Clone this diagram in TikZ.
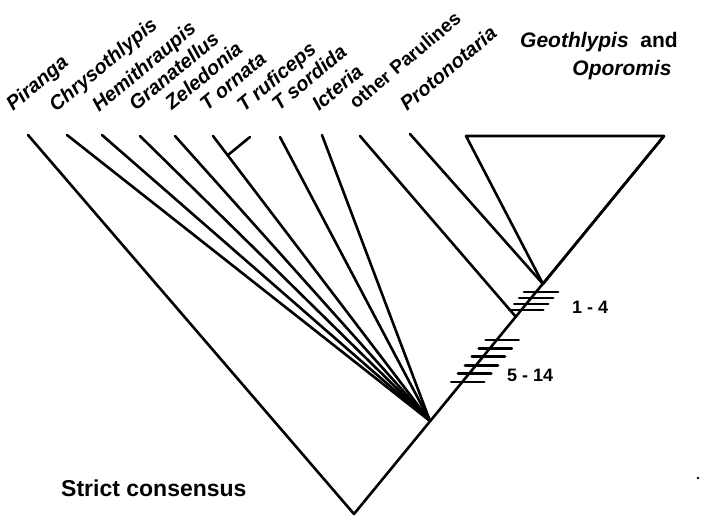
\documentclass[tikz,border=0pt]{standalone}
\usepackage{fontspec}
\setmainfont{Liberation Sans}
\begin{document}
\begin{tikzpicture}[x=1pt,y=-1pt,
  branch/.style={line width=2.6pt, line cap=round, line join=round},
  hash/.style={line width=2.8pt, line cap=round},
  lbl/.style={anchor=base west, rotate=40, inner sep=0pt, font=\fontsize{20}{20}\selectfont\bfseries\itshape},
  ttl/.style={inner sep=0pt, font=\fontsize{21}{21}\selectfont\bfseries},
  num/.style={inner sep=0pt, anchor=west, font=\fontsize{18}{18}\selectfont\bfseries}]
\useasboundingbox (0,0) rectangle (710,516);

% key points
\coordinate (R) at (354,514);
\coordinate (P) at (430,421);
\coordinate (O) at (516,317);
\coordinate (A) at (543,284);
\coordinate (TL) at (466,136);
\coordinate (TR) at (664,136);
\coordinate (J) at (228,155);

% leaf tops
\coordinate (piranga) at (28,135);
\coordinate (chryso) at (67,135);
\coordinate (hemi) at (102,135);
\coordinate (grana) at (140,136);
\coordinate (zele) at (175,136);
\coordinate (tornata) at (213,136);
\coordinate (truf) at (250,137);
\coordinate (tsord) at (280,137);
\coordinate (icter) at (322,135);
\coordinate (other) at (360,136);
\coordinate (proto) at (410,134);

% main branches
\draw[branch] (piranga) -- (R) -- (TR);
\draw[branch] (TL) -- (TR) -- (A) -- cycle;
\draw[branch] (proto) -- (A);
\draw[branch] (other) -- (O);
\foreach \c in {chryso,hemi,grana,zele,tornata,tsord,icter}
  \draw[branch] (\c) -- (P);
\draw[branch] (truf) -- (J);

% hash marks 1-4
\foreach \yy in {292,298,304,310}
  \draw[hash] ({354+0.82*(514-\yy)-12},\yy) -- ++(34,0);
% hash marks 5-14
\foreach \yy in {340,348.4,356.8,365.2,373.6,382}
  \draw[hash] ({354+0.82*(514-\yy)-11},\yy) -- ++(33,0);

\node[num] (n14) at (572,307) {1 - 4};
\node[num] (n514) at (507,375) {5 - 14};

% taxon labels
\node[lbl] (l1) at (13,112) {Piranga};
\node[lbl] (l2) at (56,113) {Chrysothlypis};
\node[lbl] (l3) at (99,113) {Hemithraupis};
\node[lbl] (l4) at (136,112) {Granatellus};
\node[lbl] (l5) at (172,111) {Zeledonia};
\node[lbl] (l6) at (207,112) {T ornata};
\node[lbl] (l7) at (244,113) {T ruficeps};
\node[lbl] (l8) at (279,112) {T sordida};
\node[lbl] (l9) at (319,112) {Icteria};
\node[lbl, font=\fontsize{19}{19}\selectfont\bfseries] (l10) at (356,110) {other Parulines};
\node[lbl] (l11) at (407,112) {Protonotaria};

\node[ttl, anchor=base west] (g1) at (520,48) {\itshape Geothlypis\ \ \upshape and};
\node[ttl, anchor=base] (g2) at (622,76) {\itshape Oporomis};

\node[ttl, anchor=base west, font=\fontsize{23}{23}\selectfont\bfseries] (sc) at (61,496) {Strict consensus};

\fill (698,478) circle (1.4);
\end{tikzpicture}
\end{document}
